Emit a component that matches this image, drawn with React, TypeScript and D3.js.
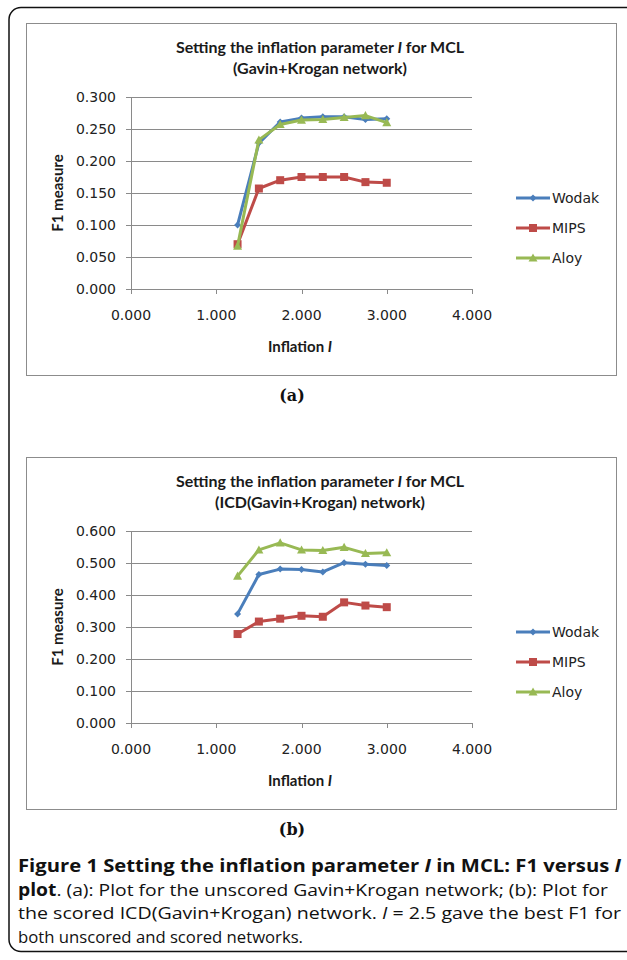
import React from "react";
import * as d3 from "d3";

const inflation = [1.25, 1.5, 1.75, 2.0, 2.25, 2.5, 2.75, 3.0];
const seriesNames = ["Wodak", "MIPS", "Aloy"];
const seriesColors = ["#4a7ebb", "#be4b48", "#98b954"];

// (a) unscored Gavin+Krogan network
const wodakA = [0.100, 0.228, 0.261, 0.267, 0.269, 0.269, 0.265, 0.266];
const mipsA = [0.070, 0.157, 0.170, 0.175, 0.175, 0.175, 0.167, 0.166];
const aloyA = [0.067, 0.233, 0.257, 0.264, 0.265, 0.268, 0.271, 0.260];

// (b) scored ICD(Gavin+Krogan) network
const wodakB = [0.341, 0.464, 0.481, 0.480, 0.472, 0.501, 0.496, 0.492];
const mipsB = [0.278, 0.317, 0.326, 0.335, 0.332, 0.377, 0.367, 0.362];
const aloyB = [0.459, 0.541, 0.563, 0.541, 0.539, 0.549, 0.530, 0.532];

const xTicks = [0, 1, 2, 3, 4];
const yTicksA = [0, 0.05, 0.1, 0.15, 0.2, 0.25, 0.3];
const yTicksB = [0, 0.1, 0.2, 0.3, 0.4, 0.5, 0.6];

const titleA = ["Setting the inflation parameter ", " for MCL", "(Gavin+Krogan network)"];
const titleB = ["Setting the inflation parameter ", " for MCL", "(ICD(Gavin+Krogan) network)"];

const tickFont = "'DejaVu Sans', Verdana, sans-serif";
const boldFont = "Lato, 'Open Sans', sans-serif";

function Marker({ kind, x, y, color }: { kind: number; x: number; y: number; color: string }) {
  if (kind === 0) {
    const s = 3.5;
    return <path d={`M${x},${y - s}L${x + s},${y}L${x},${y + s}L${x - s},${y}Z`} fill={color} />;
  }
  if (kind === 1) {
    return <rect x={x - 4} y={y - 4} width={8} height={8} fill={color} />;
  }
  const s = 4.5;
  return <path d={`M${x},${y - s}L${x + s},${y + s * 0.8}L${x - s},${y + s * 0.8}Z`} fill={color} />;
}

function Chart({
  top,
  yMax,
  yTicks,
  series,
  title,
  label,
}: {
  top: number;
  yMax: number;
  yTicks: number[];
  series: number[][];
  title: string[];
  label: string;
}) {
  const boxX = 26, boxW = 590, boxH = 352;
  const plotTop = top + 74;
  const plotBottom = top + 266;
  const x = d3.scaleLinear().domain([0, 4]).range([131, 472]);
  const y = d3.scaleLinear().domain([0, yMax]).range([plotBottom, plotTop]);
  const line = d3
    .line<number>()
    .x((_, i) => x(inflation[i]))
    .y((d) => y(d));
  const legendY = [top + 175, top + 205, top + 235];
  return (
    <g>
      <rect x={boxX + 0.5} y={top + 0.5} width={boxW} height={boxH} fill="#fff" stroke="#8c8c8c" strokeWidth={1} />
      <text x={320} y={top + 30} textAnchor="middle" fontFamily={boldFont} fontWeight="bold" fontSize={16} fill="#1a1a1a">
        {title[0]}
        <tspan fontStyle="italic">I</tspan>
        {title[1]}
      </text>
      <text x={320} y={top + 51} textAnchor="middle" fontFamily={boldFont} fontWeight="bold" fontSize={16} fill="#1a1a1a">
        {title[2]}
      </text>
      {yTicks.map((t) => (
        <g key={t}>
          <line x1={126} x2={472} y1={Math.round(y(t)) + 0.5} y2={Math.round(y(t)) + 0.5} stroke="#8a8a8a" strokeWidth={1} />
          <text x={116} y={y(t) + 5} textAnchor="end" fontFamily={tickFont} fontSize={14} fill="#222">
            {t.toFixed(3)}
          </text>
        </g>
      ))}
      <line x1={131.5} x2={131.5} y1={plotTop} y2={plotBottom} stroke="#8a8a8a" strokeWidth={1} />
      {xTicks.map((t) => (
        <g key={t}>
          <line x1={Math.round(x(t)) + 0.5} x2={Math.round(x(t)) + 0.5} y1={plotBottom} y2={plotBottom + 5} stroke="#8a8a8a" strokeWidth={1} />
          <text x={x(t)} y={plotBottom + 31} textAnchor="middle" fontFamily={tickFont} fontSize={14} fill="#222">
            {t.toFixed(3)}
          </text>
        </g>
      ))}
      <text x={300} y={plotBottom + 63} textAnchor="middle" fontFamily={boldFont} fontWeight="bold" fontSize={15} fill="#1a1a1a">
        Inflation <tspan fontStyle="italic">I</tspan>
      </text>
      <text
        transform={`translate(63,${top + 170}) rotate(-90)`}
        textAnchor="middle"
        fontFamily={boldFont}
        fontWeight="bold"
        fontSize={15}
        fill="#1a1a1a"
      >
        F1 measure
      </text>
      {series.map((s, si) => (
        <g key={si}>
          <path d={line(s) || ""} fill="none" stroke={seriesColors[si]} strokeWidth={3} strokeLinejoin="round" />
          {s.map((v, i) => (
            <Marker key={i} kind={si} x={x(inflation[i])} y={y(v)} color={seriesColors[si]} />
          ))}
        </g>
      ))}
      {seriesNames.map((n, si) => (
        <g key={n}>
          <line x1={516} x2={550} y1={legendY[si]} y2={legendY[si]} stroke={seriesColors[si]} strokeWidth={3} />
          <Marker kind={si} x={533} y={legendY[si]} color={seriesColors[si]} />
          <text x={552} y={legendY[si] + 5} fontFamily={tickFont} fontSize={14} fill="#222">
            {n}
          </text>
        </g>
      ))}
      <text x={292} y={top + 378} textAnchor="middle" fontFamily="'DejaVu Serif', 'Liberation Serif', serif" fontWeight="bold" fontSize={16} fill="#111">
        {label}
      </text>
    </g>
  );
}

export default function App() {
  const capFont = "'Open Sans', 'Noto Sans', sans-serif";
  return (
    <svg width={627} height={960} style={{ position: "absolute", left: 0, top: 0, background: "#fff" }}>
      <rect x={9} y={7.5} width={630} height={944} rx={12} fill="#fff" stroke="#111" strokeWidth={1.5} />
      <Chart top={23} yMax={0.3} yTicks={yTicksA} series={[wodakA, mipsA, aloyA]} title={titleA} label="(a)" />
      <Chart top={457} yMax={0.6} yTicks={yTicksB} series={[wodakB, mipsB, aloyB]} title={titleB} label="(b)" />
      <g fontFamily={capFont} fontSize={17} fill="#111">
        <text x={18} y={872} fontWeight="bold" textLength={603} lengthAdjust="spacingAndGlyphs">
          Figure 1 Setting the inflation parameter <tspan fontStyle="italic">I</tspan> in MCL: F1 versus{" "}
          <tspan fontStyle="italic">I</tspan>
        </text>
        <text x={18} y={896} textLength={590} lengthAdjust="spacingAndGlyphs">
          <tspan fontWeight="bold">plot</tspan>. (a): Plot for the unscored Gavin+Krogan network; (b): Plot for
        </text>
        <text x={18} y={919} textLength={603} lengthAdjust="spacingAndGlyphs">
          the scored ICD(Gavin+Krogan) network. <tspan fontStyle="italic">I</tspan> = 2.5 gave the best F1 for
        </text>
        <text x={18} y={943} textLength={285} lengthAdjust="spacingAndGlyphs">
          both unscored and scored networks.
        </text>
      </g>
    </svg>
  );
}
